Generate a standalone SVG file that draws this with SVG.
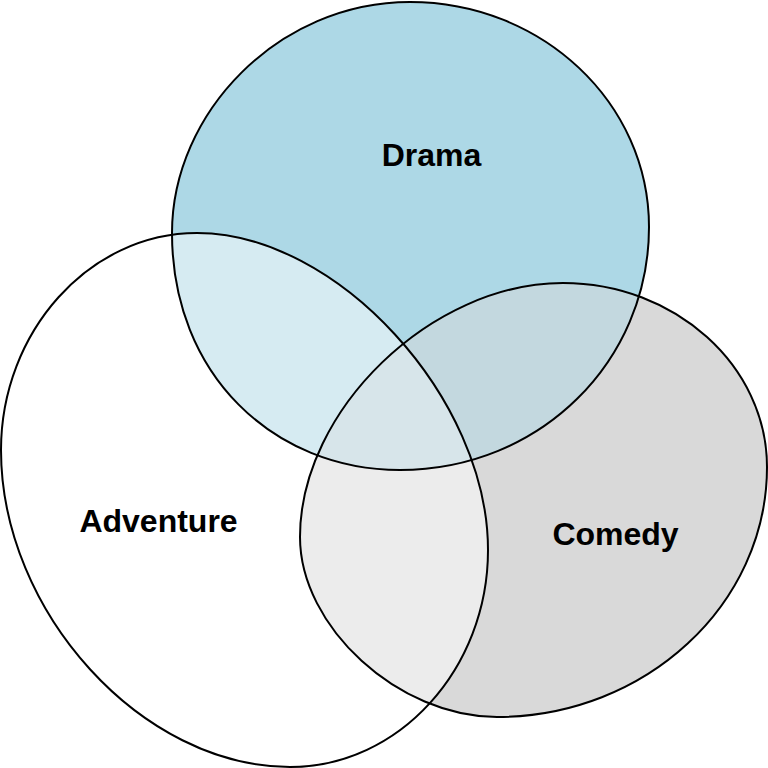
<svg xmlns="http://www.w3.org/2000/svg" xmlns:xlink="http://www.w3.org/1999/xlink" width="768" height="768" viewBox="0 0 768 768">
  <style>
    .outline { fill: none; stroke: #000000; stroke-width: 2; }
    .label { font-family: "Liberation Sans", Arial, sans-serif; font-weight: bold; font-size: 32px; fill: #000000; text-anchor: middle; }
  </style>
  <defs>
    <path id="p-drama" d="M410,2 C541.9,2 649,102.7 649,227 C649,361.2 540.4,470 400,470 C273.8,470 172,374.6 172,233 C172,112.6 278.6,2 410,2 Z"/>
    <path id="p-comedy" d="M563,283 C675,283 767,365.8 767,467 C767,604.5 645.5,717 497,717 C398.5,717 300,627 300,537 C300,410 431.5,283 563,283 Z"/>
    <path id="p-adventure" d="M197,233 C89,233 1,332 1,450 C1,612 142,767 290,767 C399,767 488,669 488,550 C488,398 337,233 197,233 Z"/>
    <clipPath id="clip-drama"><use xlink:href="#p-drama"/></clipPath>
    <clipPath id="clip-comedy"><use xlink:href="#p-comedy"/></clipPath>
    <clipPath id="clip-adventure"><use xlink:href="#p-adventure"/></clipPath>
  </defs>
  <rect x="0" y="0" width="768" height="768" fill="#FFFFFF"/>
  <g id="adventure">
    <use xlink:href="#p-adventure" fill="#FFFFFF"/>
    <text class="label" x="158.5" y="531.5">Adventure</text>
  </g>
  <g id="drama">
    <use xlink:href="#p-drama" fill="#ADD8E6"/>
    <text class="label" x="431.5" y="165.5">Drama</text>
  </g>
  <g id="comedy">
    <use xlink:href="#p-comedy" fill="#D9D9D9"/>
    <text class="label" x="615.5" y="545">Comedy</text>
  </g>
  <g id="overlaps">
    <use xlink:href="#p-comedy" fill="#C3D8DF" clip-path="url(#clip-drama)"/>
    <use xlink:href="#p-drama" fill="#D6EBF2" clip-path="url(#clip-adventure)"/>
    <use xlink:href="#p-comedy" fill="#ECECEC" clip-path="url(#clip-adventure)"/>
    <g clip-path="url(#clip-comedy)">
      <use xlink:href="#p-drama" fill="#D7E5EA" clip-path="url(#clip-adventure)"/>
    </g>
  </g>
  <g id="connectors">
    <use xlink:href="#p-drama" class="outline"/>
    <use xlink:href="#p-comedy" class="outline"/>
    <use xlink:href="#p-adventure" class="outline"/>
  </g>
</svg>
